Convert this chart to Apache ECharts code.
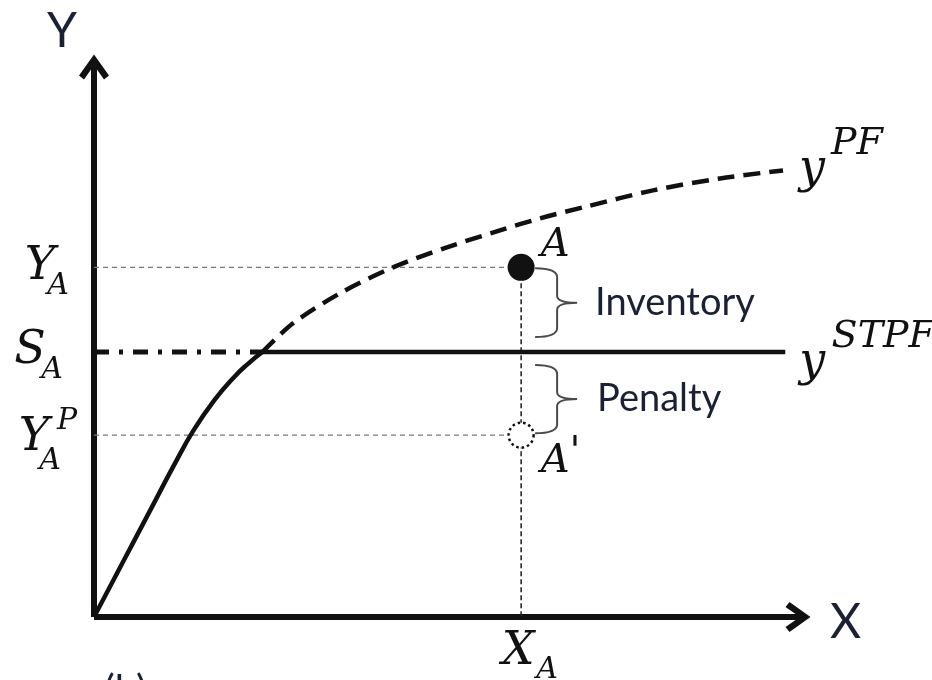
<!DOCTYPE html>
<html>
<head>
<meta charset="utf-8">
<script src="https://cdn.jsdelivr.net/npm/echarts@6/dist/echarts.min.js"></script>
<style>
  html, body { margin: 0; padding: 0; background: #fff; }
  #chart { width: 932px; height: 680px; }
</style>
</head>
<body>
<div id="chart"></div>
<script>
// Decision point A and the three output levels (axis units 0..100)
const xA = 60.8;
const levelYA = 63.75;   // Y_A : output demanded at A
const levelSA = 48.3;    // S_A : short-term capacity
const levelYAP = 33.15;  // Y_A^P : output after penalty (A')
const stpfEndX = 98.4;

// Production frontier y^PF: feasible part, up to the capacity level S_A
const pfSolid = [
  [0, 0], [2.85, 6.92], [5.69, 13.84], [8.54, 20.77], [11.39, 27.69],
  [14.23, 34.15], [17.08, 39.44], [19.93, 43.72], [21.92, 46.16], [23.96, 48.3]
];
// Production frontier y^PF beyond capacity
const pfDashed = [
  [23.96, 48.3], [28.33, 53.55], [35.02, 59.02], [42.56, 63.75], [50.25, 67.4],
  [57.79, 70.49], [63.49, 72.68], [70.18, 74.86], [79.57, 77.78], [89.11, 79.96],
  [98.08, 81.42]
];

// Text pieces
const axisNames = ['X', 'Y'];
const braceLabels = ['Inventory', 'Penalty'];
const pointNames = ['A', "'"];
const levelNames = [['Y', 'A', ''], ['S', 'A', ''], ['Y', 'A', 'P']];
const xTickName = ['X', 'A'];
const curveNames = [['y', 'PF'], ['y', 'STPF']];

const junctionX = pfSolid[pfSolid.length - 1][0];
const ink = '#111';

const arrowPath = 'path://M15,0 L30,21 L25,25 L18,15 L18,28 L12,28 L12,15 L5,25 L0,21 Z';

function mathText(x, y, text, size) {
  return {
    type: 'text', x: x, y: y,
    style: {
      text: text, font: 'italic ' + size + 'px "DejaVu Serif"', fill: ink,
      align: 'center', verticalAlign: 'middle', textAlign: 'center', textVerticalAlign: 'middle'
    }
  };
}
function plainText(x, y, text, size, align) {
  return {
    type: 'text', x: x, y: y,
    style: {
      text: text, font: size + 'px Lato', fill: '#1b2035',
      align: align, verticalAlign: 'middle', textAlign: align, textVerticalAlign: 'middle'
    }
  };
}
function brace(spineX, top, bot) {
  const mid = (top + bot) / 2, l = spineX - 22, tip = spineX + 20;
  const d = 'M' + l + ',' + top + ' Q' + spineX + ',' + top + ' ' + spineX + ',' + (top + 9) +
    ' L' + spineX + ',' + (mid - 7) + ' Q' + spineX + ',' + mid + ' ' + tip + ',' + mid +
    ' M' + tip + ',' + mid + ' Q' + spineX + ',' + mid + ' ' + spineX + ',' + (mid + 7) +
    ' L' + spineX + ',' + (bot - 9) + ' Q' + spineX + ',' + bot + ' ' + l + ',' + bot;
  return { type: 'path', shape: { pathData: d }, style: { stroke: '#4a4a4a', lineWidth: 2, fill: null } };
}

function renderAnnotations(params, api) {
  const big = 46, small = 30;
  const kids = [];
  const pYA = api.coord([0, levelYA]);
  const pSA = api.coord([0, levelSA]);
  const pYAP = api.coord([0, levelYAP]);
  const pXA = api.coord([xA, 0]);
  const pA = api.coord([xA, levelYA]);
  const pA2 = api.coord([xA, levelYAP]);
  const pPF = api.coord(pfDashed[pfDashed.length - 1]);
  const pST = api.coord([stpfEndX, levelSA]);
  const pYEnd = api.coord([0, 100]);
  const pXEnd = api.coord([100, 0]);

  // level labels along the Y axis
  kids.push(mathText(pYA[0] - 54, pYA[1], levelNames[0][0], big));
  kids.push(mathText(pYA[0] - 36, pYA[1] + 19, levelNames[0][1], small));
  kids.push(mathText(pSA[0] - 64, pSA[1] - 1, levelNames[1][0], big));
  kids.push(mathText(pSA[0] - 42, pSA[1] + 18, levelNames[1][1], small));
  kids.push(mathText(pYAP[0] - 60, pYAP[1] + 3, levelNames[2][0], big));
  kids.push(mathText(pYAP[0] - 27, pYAP[1] - 14, levelNames[2][2], small));
  kids.push(mathText(pYAP[0] - 44, pYAP[1] + 26, levelNames[2][1], small));
  // X_A below the X axis
  kids.push(mathText(pXA[0] - 3, pXA[1] + 35, xTickName[0], big));
  kids.push(mathText(pXA[0] + 26, pXA[1] + 53, xTickName[1], small));
  // points A and A'
  kids.push(mathText(pA[0] + 34, pA[1] - 22, pointNames[0], 40));
  kids.push(mathText(pA2[0] + 34, pA2[1] + 26, pointNames[0], 40));
  kids.push(mathText(pA2[0] + 54, pA2[1] + 18, pointNames[1], 40));
  // curve names
  kids.push(mathText(pPF[0] + 29, pPF[1], curveNames[0][0], big));
  kids.push(mathText(pPF[0] + 74, pPF[1] - 26, curveNames[0][1], 38));
  kids.push(mathText(pST[0] + 27, pST[1] + 11, curveNames[1][0], big));
  kids.push(mathText(pST[0] + 98, pST[1] - 15, curveNames[1][1], 38));
  // axis names
  kids.push(plainText(pYEnd[0] - 32, pYEnd[1] - 37, axisNames[1], 48, 'center'));
  kids.push(plainText(pXEnd[0] + 49, pXEnd[1] + 6, axisNames[0], 48, 'center'));
  // braces with their labels
  const spineX = pA[0] + 36;
  kids.push(brace(spineX, pA[1] + 1, pSA[1] - 15));
  kids.push(brace(spineX, pSA[1] + 13, pA2[1] - 2));
  kids.push(plainText(spineX + 38, (pA[1] + pSA[1] - 14) / 2, braceLabels[0], 38, 'left'));
  kids.push(plainText(spineX + 40, (pSA[1] + pA2[1] + 11) / 2, braceLabels[1], 38, 'left'));
  return { type: 'group', children: kids };
}

const chart = echarts.init(document.getElementById('chart'), null, { renderer: 'canvas' });
const hiddenAxis = {
  type: 'value', min: 0, max: 100,
  splitLine: { show: false }, axisTick: { show: false }, axisLabel: { show: false },
  axisLine: {
    show: true, onZero: false,
    symbol: ['none', arrowPath], symbolSize: [30, 28],
    lineStyle: { color: ink, width: 6, cap: 'butt' }
  }
};
chart.setOption({
  animation: false,
  backgroundColor: '#fff',
  grid: { left: 94, right: 135.5, top: 68.5, bottom: 63 },
  xAxis: hiddenAxis,
  yAxis: hiddenAxis,
  series: [
    { type: 'line', name: 'guide YA', data: [[0, levelYA], [xA, levelYA]], symbol: 'none', z: 1,
      lineStyle: { color: '#7a7a7a', width: 1.4, type: [5, 4] } },
    { type: 'line', name: 'guide YAP', data: [[0, levelYAP], [xA, levelYAP]], symbol: 'none', z: 1,
      lineStyle: { color: '#7a7a7a', width: 1.4, type: [5, 4] } },
    { type: 'line', name: 'guide XA', data: [[xA, levelYA], [xA, 0]], symbol: 'none', z: 1,
      lineStyle: { color: '#222', width: 1.5, type: [5, 3] } },
    { type: 'line', name: 'SA to frontier', data: [[0, levelSA], [junctionX, levelSA]], symbol: 'none', z: 2,
      lineStyle: { color: ink, width: 5, type: [15, 10, 4, 10] } },
    { type: 'line', name: 'y STPF', data: [[junctionX, levelSA], [stpfEndX, levelSA]], symbol: 'none', z: 2,
      lineStyle: { color: ink, width: 4.5 } },
    { type: 'line', name: 'y PF', data: pfSolid, symbol: 'none', smooth: 0.5, z: 3,
      lineStyle: { color: ink, width: 4.5 } },
    { type: 'line', name: 'y PF beyond', data: pfDashed, symbol: 'none', smooth: 0.3, z: 3,
      lineStyle: { color: ink, width: 4.5, type: [17, 9] } },
    { type: 'scatter', name: 'A', data: [[xA, levelYA]], symbol: 'circle', symbolSize: 27, z: 5,
      itemStyle: { color: ink, opacity: 1 } },
    { type: 'scatter', name: "A'", data: [[xA, levelYAP]], symbol: 'circle', symbolSize: 25, z: 5,
      itemStyle: { color: '#fff', borderColor: ink, borderWidth: 2.5, borderType: [2.5, 3], opacity: 1 } },
    { type: 'custom', name: 'annotations', data: [[0, 0]], renderItem: renderAnnotations, z: 6, silent: true }
  ],
  graphic: [
    { type: 'text', left: 104, top: 671, style: { text: '(b)', font: '40px Lato', fill: '#1b2035' } }
  ]
});
</script>
</body>
</html>
